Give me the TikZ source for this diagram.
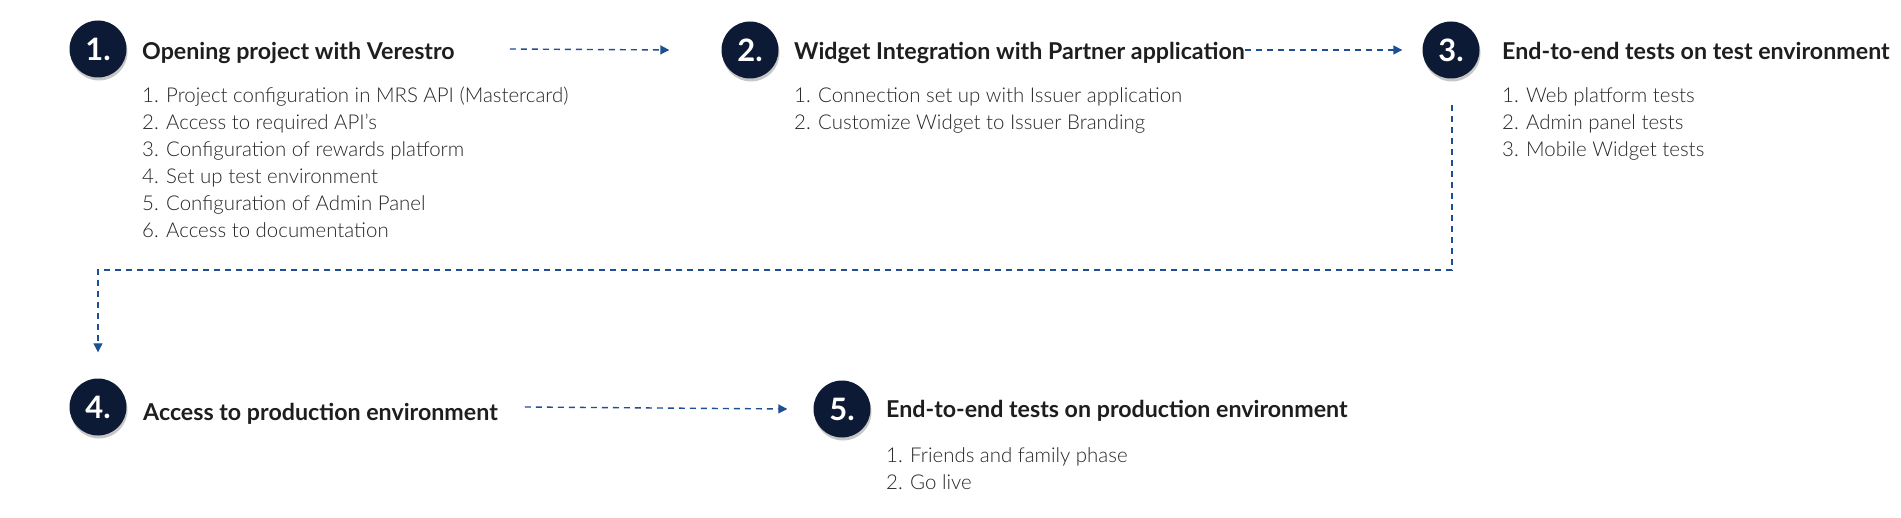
\documentclass[tikz,border=0pt]{standalone}
\usepackage{fontspec}
\setmainfont{Lato}[UprightFont={* Light},BoldFont={* Bold}]
\usetikzlibrary{arrows.meta}
\definecolor{navy}{HTML}{0C1A35}
\definecolor{titlecol}{HTML}{1E1E1E}
\definecolor{itemcol}{HTML}{262626}
\definecolor{arrowcol}{HTML}{1F4F93}
\tikzset{
  stepcircle/.style={circle,fill=navy,minimum size=57bp,inner sep=0pt,text=white,
    font=\fontsize{31}{31}\selectfont\bfseries},
  stepshadow/.style={circle,fill=black,opacity=0.22,minimum size=57bp,inner sep=0pt},
  steptitle/.style={anchor=base west,inner sep=0pt,text=titlecol,
    font=\fontsize{23.3}{27}\selectfont\bfseries},
  stepitem/.style={anchor=base west,inner sep=0pt,text=itemcol,
    font=\fontsize{20.5}{27}\selectfont},
  flow/.style={draw=arrowcol,line width=1.4bp,dash pattern=on 6bp off 5bp,
    -{Triangle[length=9bp,width=9bp]}},
}
\begin{document}
\begin{tikzpicture}[x=1bp,y=-1bp]
\useasboundingbox (0,0) rectangle (1901,518);
% shadows
\foreach \cx/\cy in {98/49,750/50,1451/50,98/407,842/409}
  \node[stepshadow] at (\cx+1,\cy+3) {};
% circles
\node[stepcircle] (c1) at (98,49) {1.};
\node[stepcircle] (c2) at (750,50) {2.};
\node[stepcircle] (c3) at (1451,50) {3.};
\node[stepcircle] (c4) at (98,407) {4.};
\node[stepcircle] (c5) at (842,409) {5.};
% titles
\node[steptitle] (t1) at (142,59.5) {Opening project with Verestro};
\node[steptitle] (t2) at (794,59.5) {Widget Integration with Partner application};
\node[steptitle] (t3) at (1502,59.5) {End-to-end tests on test environment};
\node[steptitle] (t4) at (143,420) {Access to production environment};
\node[steptitle] (t5) at (886,417.5) {End-to-end tests on production environment};
% items
\foreach \t [count=\i] in {1. Project configuration in MRS API (Mastercard),
  2. Access to required API's, 3. Configuration of rewards platform,
  4. Set up test environment, 5. Configuration of Admin Panel,
  6. Access to documentation}
  \node[stepitem] (a\i) at (142,{103+27*(\i-1)}) {\t};
\foreach \t [count=\i] in {1. Connection set up with Issuer application,
  2. Customize Widget to Issuer Branding}
  \node[stepitem] (b\i) at (794,{103+27*(\i-1)}) {\t};
\foreach \t [count=\i] in {1. Web platform tests, 2. Admin panel tests,
  3. Mobile Widget tests}
  \node[stepitem] (d\i) at (1502,{103+27*(\i-1)}) {\t};
\foreach \t [count=\i] in {1. Friends and family phase, 2. Go live}
  \node[stepitem] (e\i) at (886,{462+27*(\i-1)}) {\t};
% connectors
\coordinate (k1) at (1452,270);
\coordinate (k2) at (98,270);
\draw[flow] ([xshift=55bp]t1.east |- c1.center) -- ([xshift=-52bp]c2.west);
\draw[flow] (t2.east |- c2.center) -- ([xshift=-20bp]c3.west);
\draw[flow,line width=1.1bp] ([yshift=-26bp]c3.south -| k1) -- (k1) -- (k2) -- ([yshift=26bp]c4.north);
\draw[flow] ([xshift=27bp]t4.east |- c4.center) -- ([xshift=-26bp]c5.west);
\end{tikzpicture}
\end{document}
